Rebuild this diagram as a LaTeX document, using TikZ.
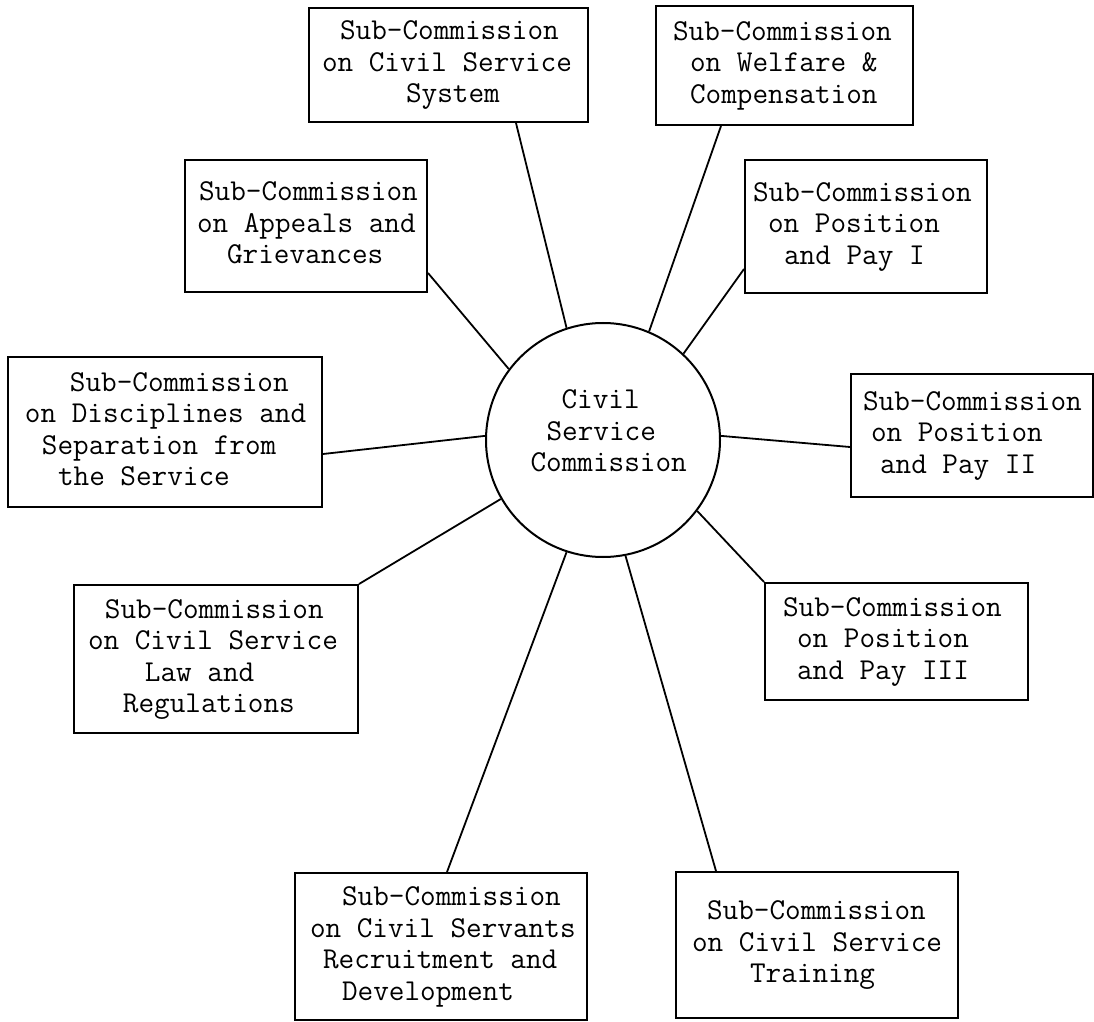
\documentclass[tikz,border=0pt]{standalone}
\usepackage{fontspec}
\usetikzlibrary{calc}
\newcommand\boxfont{\ttfamily\fontsize{15.17pt}{15.75pt}\selectfont}
\newcommand\sk{\phantom{x}}
\newcommand\tline[2]{\hspace*{#1pt}#2\strut}
\begin{document}
\begin{tikzpicture}[x=0.5pt,y=-0.5pt,
  subbox/.style={draw, line width=1pt, inner sep=0pt, align=left, font=\boxfont},
  hub/.style={draw, circle, line width=1pt, inner sep=0pt, minimum size=117pt},
  hubtext/.style={inner sep=0pt, align=left, font=\boxfont, text width=79pt},
  link/.style={line width=0.9pt}]
\fill[white] (0,0) rectangle (1094,1022);
\useasboundingbox (0,0) rectangle (1094,1022);

% centre
\node[hub] (c) at (603,440) {};
\node[hubtext] (ct) at (609.5,434) {\tline{15.5}{Civil}\\\tline{8}{Service}\\\tline{0}{Commission}};

% sub-commissions
\node[subbox, minimum width=139.5pt, minimum height=57pt, text width=139.5pt] (b1) at (448.5,65)
  {\tline{15.5}{Sub-Commission}\\\tline{6.5}{on\sk Civil\sk Service}\\\tline{48.5}{System}};
\node[subbox, minimum width=128.5pt, minimum height=59.5pt, text width=128.5pt] (b2) at (784.5,65.5)
  {\tline{8.5}{Sub-Commission}\\\tline{17}{on\sk Welfare\sk\&}\\\tline{17}{Compensation}};
\node[subbox, minimum width=121pt, minimum height=66pt, text width=121pt] (b3) at (306,226)
  {\tline{7}{Sub-Commission}\\\tline{6}{on\sk Appeals\sk and}\\\tline{21}{Grievances}};
\node[subbox, minimum width=121pt, minimum height=66.5pt, text width=121pt] (b4) at (866,226.5)
  {\tline{4}{Sub-Commission}\\\tline{11.5}{on\sk Position}\\\tline{19.5}{and\sk Pay\sk I}};
\node[subbox, minimum width=157pt, minimum height=75pt, text width=157pt] (b5) at (165,432)
  {\tline{31}{Sub-Commission}\\\tline{8.5}{on\sk Disciplines\sk and}\\\tline{17}{Separation\sk from}\\\tline{25}{the\sk Service}};
\node[subbox, minimum width=121pt, minimum height=61.5pt, text width=121pt] (b6) at (972,435.5)
  {\tline{6}{Sub-Commission}\\\tline{10}{on\sk Position}\\\tline{14.5}{and\sk Pay\sk II}};
\node[subbox, minimum width=142pt, minimum height=74pt, text width=142pt] (b7) at (216,659)
  {\tline{15.5}{Sub-Commission}\\\tline{7}{on\sk Civil\sk Service}\\\tline{35.5}{Law\sk and}\\\tline{24.5}{Regulations}};
\node[subbox, minimum width=131.5pt, minimum height=58.5pt, text width=131.5pt] (b8) at (896.5,641.5)
  {\tline{9}{Sub-Commission}\\\tline{16}{on\sk Position}\\\tline{16}{and\sk Pay\sk III}};
\node[subbox, minimum width=146pt, minimum height=73.5pt, text width=146pt] (b9) at (441,946.5)
  {\tline{23.5}{Sub-Commission}\\\tline{7.5}{on\sk Civil\sk Servants}\\\tline{14}{Recruitment\sk and}\\\tline{23.5}{Development}};
\node[subbox, minimum width=141pt, minimum height=73pt, text width=141pt] (b10) at (817,945)
  {\tline{15.5}{Sub-Commission}\\\tline{8}{on\sk Civil\sk Service}\\\tline{37}{Training}};

% connectors
\draw[link] ($(b1.south west)+(208,0)$) -- (c.108.3);
\draw[link] ($(b2.south west)+(66,0)$) -- (c.67.8);
\draw[link] ($(b3.south east)+(0,-20)$) -- (c.143.6);
\draw[link] ($(b4.south west)+(0,-25)$) -- (c.47.4);
\draw[link] ($(b5.north east)+(0,98)$) -- (c.178);
\draw[link] ($(b6.north west)+(0,74)$) -- (c.2.5);
\draw[link] (b7.north east) -- (c.210.1);
\draw[link] (b8.north west) -- (c.323.3);
\draw[link] ($(b9.north west)+(153,0)$) -- (c.252.3);
\draw[link] ($(b10.north west)+(41,0)$) -- (c.281);
\end{tikzpicture}
\end{document}
